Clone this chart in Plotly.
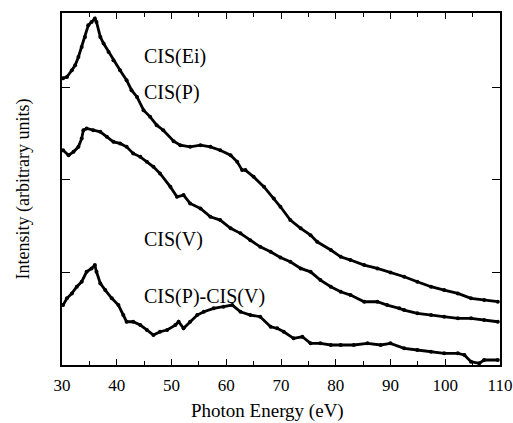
import plotly.graph_objects as go

# Photon energy (eV) and intensity (arbitrary units)
cis_p_energy = [30.2, 30.9, 31.8, 32.4, 33.0, 33.6, 34.2, 34.8, 35.4, 36.0, 36.3, 37.0, 37.6, 38.5,
                39.4, 40.6, 41.8, 42.7, 43.7, 44.9, 46.1, 47.3, 48.5, 50.4, 51.6, 53.4, 55.3, 57.1,
                58.9, 60.8, 62.0, 62.9, 63.5, 65.0, 66.9, 68.7, 69.9, 71.7, 73.6, 75.4, 76.6, 79.1,
                80.9, 82.7, 85.2, 87.6, 90.0, 92.5, 94.9, 97.4, 99.8, 102.3, 104.7, 107.1, 109.6]
cis_p_intensity = [3.096, 3.110, 3.182, 3.236, 3.326, 3.434, 3.542, 3.668, 3.703, 3.740, 3.703, 3.542,
                   3.470, 3.380, 3.290, 3.182, 3.074, 2.967, 2.894, 2.751, 2.679, 2.589, 2.535, 2.416,
                   2.373, 2.355, 2.373, 2.355, 2.319, 2.265, 2.193, 2.104, 2.104, 2.031, 1.923, 1.798,
                   1.708, 1.564, 1.475, 1.402, 1.330, 1.241, 1.168, 1.133, 1.079, 1.043, 0.998, 0.953,
                   0.899, 0.845, 0.809, 0.773, 0.720, 0.701, 0.683]

cis_v_energy = [30.2, 31.2, 32.1, 33.0, 33.6, 33.9, 34.5, 35.7, 37.0, 38.2, 39.4, 40.6, 41.8, 43.0,
                44.3, 45.5, 46.7, 47.9, 49.8, 51.0, 52.2, 53.4, 55.3, 57.1, 58.9, 60.8, 62.6, 64.4,
                66.2, 68.1, 69.9, 71.7, 73.6, 75.4, 77.2, 79.1, 80.9, 82.7, 85.2, 87.6, 89.4, 91.6,
                92.5, 94.9, 97.4, 99.8, 102.3, 104.7, 107.1, 109.6]
cis_v_intensity = [2.319, 2.265, 2.301, 2.355, 2.446, 2.535, 2.553, 2.535, 2.517, 2.463, 2.409, 2.392,
                   2.355, 2.284, 2.247, 2.193, 2.139, 2.068, 1.923, 1.816, 1.834, 1.744, 1.690, 1.600,
                   1.564, 1.475, 1.421, 1.348, 1.276, 1.222, 1.160, 1.114, 1.043, 1.006, 0.917, 0.845,
                   0.791, 0.755, 0.683, 0.683, 0.647, 0.612, 0.593, 0.558, 0.539, 0.521, 0.504, 0.504,
                   0.485, 0.467]

diff_energy = [30.2, 30.9, 31.8, 32.7, 33.6, 34.5, 35.4, 36.0, 36.3, 37.0, 37.9, 39.1, 40.3, 41.2,
               41.8, 43.0, 44.3, 45.5, 46.7, 47.9, 49.2, 50.7, 51.3, 52.2, 53.4, 54.7, 55.9, 57.7,
               59.5, 61.1, 62.6, 64.4, 66.2, 68.1, 69.3, 70.5, 72.3, 73.9, 75.4, 77.2, 79.1, 80.9,
               83.3, 85.8, 88.2, 90.0, 92.5, 94.9, 97.4, 99.8, 102.3, 103.5, 104.7, 106.2, 107.1, 109.6]
diff_intensity = [0.647, 0.720, 0.773, 0.845, 0.899, 1.006, 1.043, 1.079, 1.006, 0.881, 0.809, 0.720,
                  0.647, 0.539, 0.467, 0.467, 0.431, 0.378, 0.324, 0.359, 0.378, 0.431, 0.467, 0.396,
                  0.467, 0.539, 0.575, 0.612, 0.629, 0.647, 0.575, 0.539, 0.521, 0.413, 0.396, 0.359,
                  0.288, 0.305, 0.234, 0.234, 0.216, 0.216, 0.216, 0.234, 0.216, 0.234, 0.180, 0.162,
                  0.143, 0.126, 0.126, 0.108, 0.036, 0.018, 0.054, 0.054]

x_ticks = [30, 40, 50, 60, 70, 80, 90, 100, 110]
y_ticks = [1, 2, 3]

labels = ["CIS(Ei)", "CIS(P)", "CIS(V)", "CIS(P)-CIS(V)"]
label_y = [3.333, 2.945, 1.359, 0.744]
label_x = 44.65

SERIF = "Liberation Serif, Times New Roman, serif"

fig = go.Figure()
for name, xs, ys in [("CIS(P)", cis_p_energy, cis_p_intensity),
                     ("CIS(V)", cis_v_energy, cis_v_intensity),
                     ("CIS(P)-CIS(V)", diff_energy, diff_intensity)]:
    fig.add_trace(go.Scatter(x=xs, y=ys, name=name, mode="lines+markers",
                             line=dict(color="black", width=2.8),
                             marker=dict(color="black", size=4),
                             showlegend=False))

for t, yv in zip(labels, label_y):
    fig.add_annotation(x=label_x, y=yv, text=t, showarrow=False, xanchor="left", yanchor="middle",
                       font=dict(family=SERIF, size=20, color="black"))

# x-axis title placed just below the tick labels
fig.add_annotation(xref="paper", yref="paper", x=0.47, y=0, yshift=-46, text="Photon Energy (eV)",
                   showarrow=False, xanchor="center", yanchor="middle",
                   font=dict(family=SERIF, size=19, color="black"))

fig.update_layout(
    width=513, height=423,
    margin=dict(l=62, r=13, t=13, b=58, autoexpand=False),
    paper_bgcolor="white", plot_bgcolor="white",
    font=dict(family=SERIF, color="black"),
)
fig.update_xaxes(range=[30, 110], tickvals=x_ticks, ticks="inside", ticklen=6, tickwidth=1,
                 tickcolor="black", automargin=False,
                 minor=dict(dtick=5, tick0=30, ticks="inside", ticklen=4, tickcolor="black"),
                 showline=True, linecolor="black", linewidth=1.5, mirror="allticks",
                 showgrid=False, zeroline=False,
                 tickfont=dict(family=SERIF, size=17, color="black"), ticklabelstandoff=4)
fig.update_yaxes(range=[0, 3.8], tickvals=y_ticks, ticks="inside", ticklen=8, tickwidth=1,
                 tickcolor="black", showticklabels=False, automargin=False,
                 showline=True, linecolor="black", linewidth=1.5, mirror="allticks",
                 showgrid=False, zeroline=False,
                 title=dict(text="Intensity (arbitrary units)", font=dict(family=SERIF, size=18, color="black"),
                            standoff=26))

fig.write_html("out.html", config={"displayModeBar": False},
               post_script="document.body.style.margin='0';")
